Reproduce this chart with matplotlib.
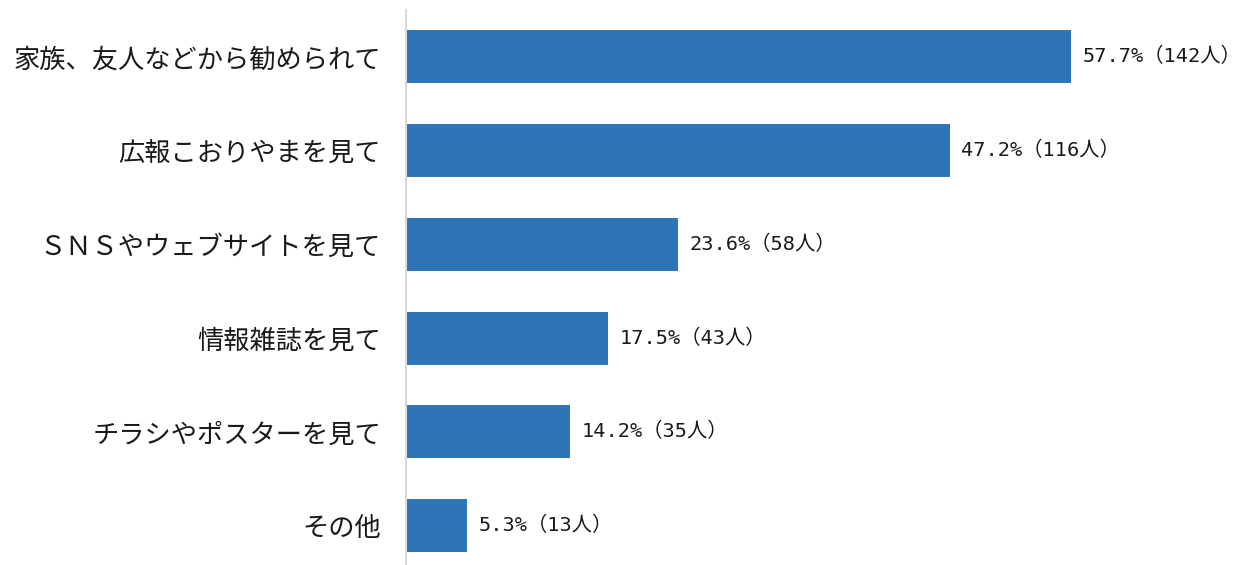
import matplotlib
matplotlib.use("Agg")
import matplotlib.pyplot as plt

plt.rcParams['font.family'] = ['Noto Sans CJK JP', 'DejaVu Sans']

categories = [
    "家族、友人などから勧められて",
    "広報こおりやまを見て",
    "ＳＮＳやウェブサイトを見て",
    "情報雑誌を見て",
    "チラシやポスターを見て",
    "その他",
]
percents = [57.7, 47.2, 23.6, 17.5, 14.2, 5.3]
counts = [142, 116, 58, 43, 35, 13]

W, H = 1239, 565
fig = plt.figure(figsize=(W / 100, H / 100), dpi=100)
ax = fig.add_axes([406 / W, 0, 1 - 406 / W, 1 - 10 / H])

y = list(range(len(categories)))
ax.barh(y, percents, height=0.565, color="#2E75B6")

for yi, p, c in zip(y, percents, counts):
    ax.text(p + 1.0, yi, f"{p}%（{c}人）", va="center", ha="left",
            fontsize=14.6, color="#1a1a1a",
            family=['DejaVu Sans Mono', 'Noto Sans CJK JP'])

ax.set_xlim(0, 72.3)
ax.set_ylim(5.42, -0.5)
ax.set_yticks(y)
ax.set_yticklabels(categories, fontsize=18.9, color="#1a1a1a")
ax.tick_params(axis="y", length=0, pad=18)
ax.set_xticks([])
for s in ("top", "right", "bottom"):
    ax.spines[s].set_visible(False)
ax.spines["left"].set_color("#D9D9D9")
ax.spines["left"].set_linewidth(1.5)

fig.savefig("out.png", dpi=100)
